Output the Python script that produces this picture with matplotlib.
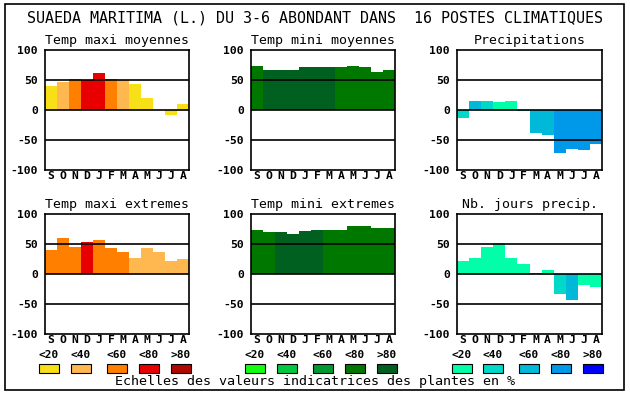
import matplotlib
matplotlib.use("Agg")
import matplotlib.pyplot as plt
from matplotlib.patches import Rectangle

# data
months = ['S', 'O', 'N', 'D', 'J', 'F', 'M', 'A', 'M', 'J', 'J', 'A']
class_labels = ['<20', '<40', '<60', '<80', '>80']

warm_colors = ['#f8e018', '#ffb850', '#ff8000', '#e80000', '#b00800']
green_colors = ['#10ff10', '#00c840', '#009830', '#007800', '#006020']
blue_colors = ['#00ffa8', '#00d8c8', '#00b8d8', '#0098e8', '#0000ff']

tmax_moy = [40, 47, 52, 50, 61, 52, 50, 44, 20, 0, -8, 10]
tmax_moy_cls = [0, 1, 2, 3, 3, 2, 1, 0, 0, 0, 0, 0]

tmin_moy = [74, 66, 67, 67, 71, 71, 71, 72, 74, 71, 64, 66]
tmin_moy_cls = [3, 4, 4, 4, 4, 4, 4, 3, 3, 3, 3, 3]

precip = [-13, 15, 15, 13, 15, -2, -38, -42, -72, -65, -67, -57]
precip_cls = [1, 2, 1, 0, 0, 1, 2, 2, 3, 3, 3, 3]

tmax_ext = [40, 60, 45, 54, 57, 44, 37, 27, 44, 36, 22, 25]
tmax_ext_cls = [2, 2, 2, 3, 2, 2, 2, 1, 1, 1, 1, 1]

tmin_ext = [74, 70, 70, 67, 72, 74, 74, 74, 80, 80, 77, 77]
tmin_ext_cls = [3, 3, 4, 4, 4, 4, 3, 3, 3, 3, 3, 3]

nb_jours = [22, 27, 45, 52, 27, 17, 2, 7, -34, -44, -18, -21]
nb_jours_cls = [0, 0, 0, 0, 0, 0, 0, 0, 1, 2, 0, 0]

W, H = 630, 394
fig = plt.figure(figsize=(W / 100, H / 100), dpi=100)
fig.patch.set_facecolor('white')

mono = 'DejaVu Sans Mono'


def px_axes(x0, y0, x1, y1):
    # pixel box (top-left origin) -> figure fraction
    return fig.add_axes([x0 / W, 1 - y1 / H, (x1 - x0) / W, (y1 - y0) / H])


def panel(box, title, values, classes, palette):
    ax = px_axes(*box)
    cols = [palette[c] for c in classes]
    ax.bar(range(12), values, width=1.0, color=cols, linewidth=0, zorder=1)
    for y in (50, 0, -50):
        ax.axhline(y, color='black', lw=1.2, zorder=2)
    ax.set_xlim(-0.5, 11.5)
    ax.set_ylim(-100, 100)
    ax.set_yticks([-100, -50, 0, 50, 100])
    ax.set_yticklabels(['-100', '-50', '0', '50', '100'],
                       family=mono, fontweight='bold', fontsize=8.2)
    ax.set_xticks(range(12))
    ax.set_xticklabels(months, family=mono, fontweight='bold', fontsize=8.2)
    ax.tick_params(axis='x', length=0, pad=0.5)
    ax.tick_params(axis='y', length=0, pad=5)
    for s in ax.spines.values():
        s.set_linewidth(1.2)
    ax.set_title(title, family=mono, fontsize=9.5, pad=4)
    return ax


panel((45, 50, 189, 170), 'Temp maxi moyennes', tmax_moy, tmax_moy_cls, warm_colors)
panel((251, 50, 395, 170), 'Temp mini moyennes', tmin_moy, tmin_moy_cls, green_colors)
panel((457, 50, 602, 170), 'Precipitations', precip, precip_cls, blue_colors)
panel((45, 214, 189, 334), 'Temp maxi extremes', tmax_ext, tmax_ext_cls, warm_colors)
panel((251, 214, 395, 334), 'Temp mini extremes', tmin_ext, tmin_ext_cls, green_colors)
panel((457, 214, 602, 334), 'Nb. jours precip.', nb_jours, nb_jours_cls, blue_colors)

fig.text(315 / W, 1 - 18 / H,
         'SUAEDA MARITIMA (L.) DU 3-6 ABONDANT DANS  16 POSTES CLIMATIQUES',
         family=mono, fontsize=10.85, ha='center', va='center')

# colour scales
legend_x = [[39, 71, 107, 139, 171],
            [245, 277, 313, 345, 377],
            [452, 483, 519, 551, 583]]
for xs, palette in zip(legend_x, [warm_colors, green_colors, blue_colors]):
    for x, c, lab in zip(xs, palette, class_labels):
        fig.patches.append(Rectangle((x / W, 1 - 373 / H), 20 / W, 9 / H,
                                     transform=fig.transFigure, facecolor=c,
                                     edgecolor='black', lw=0.8))
        fig.text((x + 10) / W, 1 - 355 / H, lab, family=mono,
                 fontweight='bold', fontsize=8, ha='center', va='center')

fig.text(315 / W, 1 - 382 / H,
         'Echelles des valeurs indicatrices des plantes en %',
         family=mono, fontsize=9.6, ha='center', va='center')

# outer frame
fig.patches.append(Rectangle((5 / W, 1 - 390 / H), 619 / W, 386 / H,
                             transform=fig.transFigure, fill=False,
                             edgecolor='black', lw=1.2))

plt.savefig('out.png', dpi=100)
